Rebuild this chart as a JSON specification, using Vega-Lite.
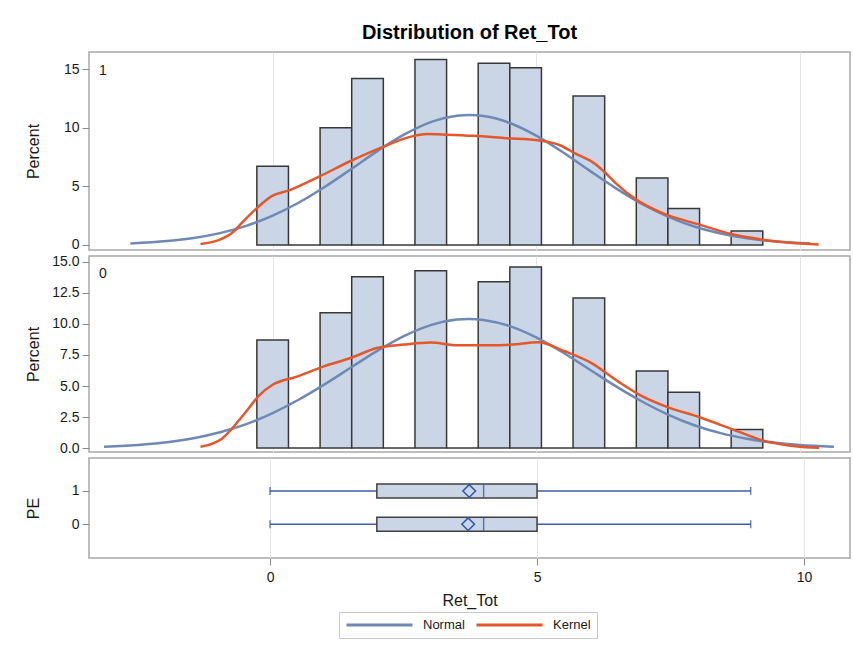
{
  "$schema": "https://vega.github.io/schema/vega-lite/v6.json",
  "padding": {"left": 24, "top": 23, "right": 3, "bottom": 5},
  "background": "white",
  "bounds": "flush",
  "title": {"text": "Distribution of Ret_Tot", "fontSize": 20, "fontWeight": "bold", "color": "#000000", "anchor": "middle", "frame": "group", "offset": -8, "baseline": "alphabetic"},
  "spacing": 6,
  "datasets": {
    "hist": [
      {"PE": 1, "lo": -0.3, "hi": 0.3, "pct": 6.7},
      {"PE": 1, "lo": 0.3, "hi": 0.9, "pct": 0},
      {"PE": 1, "lo": 0.9, "hi": 1.5, "pct": 10.0},
      {"PE": 1, "lo": 1.5, "hi": 2.1, "pct": 14.2},
      {"PE": 1, "lo": 2.1, "hi": 2.7, "pct": 0},
      {"PE": 1, "lo": 2.7, "hi": 3.3, "pct": 15.8},
      {"PE": 1, "lo": 3.3, "hi": 3.9, "pct": 0},
      {"PE": 1, "lo": 3.9, "hi": 4.5, "pct": 15.5},
      {"PE": 1, "lo": 4.5, "hi": 5.1, "pct": 15.1},
      {"PE": 1, "lo": 5.1, "hi": 5.7, "pct": 0},
      {"PE": 1, "lo": 5.7, "hi": 6.3, "pct": 12.7},
      {"PE": 1, "lo": 6.3, "hi": 6.9, "pct": 0},
      {"PE": 1, "lo": 6.9, "hi": 7.5, "pct": 5.7},
      {"PE": 1, "lo": 7.5, "hi": 8.1, "pct": 3.1},
      {"PE": 1, "lo": 8.1, "hi": 8.7, "pct": 0},
      {"PE": 1, "lo": 8.7, "hi": 9.3, "pct": 1.2},
      {"PE": 0, "lo": -0.3, "hi": 0.3, "pct": 8.7},
      {"PE": 0, "lo": 0.3, "hi": 0.9, "pct": 0},
      {"PE": 0, "lo": 0.9, "hi": 1.5, "pct": 10.9},
      {"PE": 0, "lo": 1.5, "hi": 2.1, "pct": 13.8},
      {"PE": 0, "lo": 2.1, "hi": 2.7, "pct": 0},
      {"PE": 0, "lo": 2.7, "hi": 3.3, "pct": 14.3},
      {"PE": 0, "lo": 3.3, "hi": 3.9, "pct": 0},
      {"PE": 0, "lo": 3.9, "hi": 4.5, "pct": 13.4},
      {"PE": 0, "lo": 4.5, "hi": 5.1, "pct": 14.6},
      {"PE": 0, "lo": 5.1, "hi": 5.7, "pct": 0},
      {"PE": 0, "lo": 5.7, "hi": 6.3, "pct": 12.1},
      {"PE": 0, "lo": 6.3, "hi": 6.9, "pct": 0},
      {"PE": 0, "lo": 6.9, "hi": 7.5, "pct": 6.2},
      {"PE": 0, "lo": 7.5, "hi": 8.1, "pct": 4.5},
      {"PE": 0, "lo": 8.1, "hi": 8.7, "pct": 0},
      {"PE": 0, "lo": 8.7, "hi": 9.3, "pct": 1.5}
    ],
    "curves": [
      {"PE": 1, "curve": "Normal", "x": -2.7, "pct": 0.13},
      {"PE": 1, "curve": "Normal", "x": -2.0, "pct": 0.33},
      {"PE": 1, "curve": "Normal", "x": -1.5, "pct": 0.59},
      {"PE": 1, "curve": "Normal", "x": -1.0, "pct": 1.01},
      {"PE": 1, "curve": "Normal", "x": -0.5, "pct": 1.63},
      {"PE": 1, "curve": "Normal", "x": 0.0, "pct": 2.5},
      {"PE": 1, "curve": "Normal", "x": 0.5, "pct": 3.62},
      {"PE": 1, "curve": "Normal", "x": 1.0, "pct": 4.98},
      {"PE": 1, "curve": "Normal", "x": 1.5, "pct": 6.5},
      {"PE": 1, "curve": "Normal", "x": 2.0, "pct": 8.04},
      {"PE": 1, "curve": "Normal", "x": 2.5, "pct": 9.42},
      {"PE": 1, "curve": "Normal", "x": 3.0, "pct": 10.47},
      {"PE": 1, "curve": "Normal", "x": 3.5, "pct": 11.02},
      {"PE": 1, "curve": "Normal", "x": 3.73, "pct": 11.08},
      {"PE": 1, "curve": "Normal", "x": 4.0, "pct": 10.99},
      {"PE": 1, "curve": "Normal", "x": 4.5, "pct": 10.4},
      {"PE": 1, "curve": "Normal", "x": 5.0, "pct": 9.32},
      {"PE": 1, "curve": "Normal", "x": 5.5, "pct": 7.92},
      {"PE": 1, "curve": "Normal", "x": 6.0, "pct": 6.38},
      {"PE": 1, "curve": "Normal", "x": 6.5, "pct": 4.87},
      {"PE": 1, "curve": "Normal", "x": 7.0, "pct": 3.52},
      {"PE": 1, "curve": "Normal", "x": 7.5, "pct": 2.42},
      {"PE": 1, "curve": "Normal", "x": 8.0, "pct": 1.57},
      {"PE": 1, "curve": "Normal", "x": 8.5, "pct": 0.97},
      {"PE": 1, "curve": "Normal", "x": 9.0, "pct": 0.56},
      {"PE": 1, "curve": "Normal", "x": 9.5, "pct": 0.31},
      {"PE": 1, "curve": "Normal", "x": 10.0, "pct": 0.16},
      {"PE": 1, "curve": "Normal", "x": 10.2, "pct": 0.13},
      {"PE": 1, "curve": "Kernel", "x": -1.37, "pct": 0.08},
      {"PE": 1, "curve": "Kernel", "x": -1.0, "pct": 0.45},
      {"PE": 1, "curve": "Kernel", "x": -0.75, "pct": 1.1},
      {"PE": 1, "curve": "Kernel", "x": -0.56, "pct": 2.0},
      {"PE": 1, "curve": "Kernel", "x": -0.31, "pct": 3.1},
      {"PE": 1, "curve": "Kernel", "x": 0.0, "pct": 4.2},
      {"PE": 1, "curve": "Kernel", "x": 0.31, "pct": 4.65},
      {"PE": 1, "curve": "Kernel", "x": 0.87, "pct": 5.8},
      {"PE": 1, "curve": "Kernel", "x": 1.5, "pct": 7.2},
      {"PE": 1, "curve": "Kernel", "x": 2.06, "pct": 8.3},
      {"PE": 1, "curve": "Kernel", "x": 2.68, "pct": 9.3},
      {"PE": 1, "curve": "Kernel", "x": 2.93, "pct": 9.45},
      {"PE": 1, "curve": "Kernel", "x": 3.3, "pct": 9.4},
      {"PE": 1, "curve": "Kernel", "x": 3.81, "pct": 9.3},
      {"PE": 1, "curve": "Kernel", "x": 4.43, "pct": 9.1},
      {"PE": 1, "curve": "Kernel", "x": 5.06, "pct": 8.9},
      {"PE": 1, "curve": "Kernel", "x": 5.45, "pct": 8.5},
      {"PE": 1, "curve": "Kernel", "x": 5.74, "pct": 7.8},
      {"PE": 1, "curve": "Kernel", "x": 6.12, "pct": 6.9},
      {"PE": 1, "curve": "Kernel", "x": 6.3, "pct": 6.2},
      {"PE": 1, "curve": "Kernel", "x": 6.55, "pct": 5.1},
      {"PE": 1, "curve": "Kernel", "x": 6.87, "pct": 3.95},
      {"PE": 1, "curve": "Kernel", "x": 7.43, "pct": 2.65},
      {"PE": 1, "curve": "Kernel", "x": 8.05, "pct": 1.8},
      {"PE": 1, "curve": "Kernel", "x": 8.68, "pct": 0.95},
      {"PE": 1, "curve": "Kernel", "x": 9.3, "pct": 0.45},
      {"PE": 1, "curve": "Kernel", "x": 9.82, "pct": 0.18},
      {"PE": 1, "curve": "Kernel", "x": 10.36, "pct": 0.04},
      {"PE": 0, "curve": "Normal", "x": -3.2, "pct": 0.11},
      {"PE": 0, "curve": "Normal", "x": -2.5, "pct": 0.27},
      {"PE": 0, "curve": "Normal", "x": -2.0, "pct": 0.47},
      {"PE": 0, "curve": "Normal", "x": -1.5, "pct": 0.79},
      {"PE": 0, "curve": "Normal", "x": -1.0, "pct": 1.27},
      {"PE": 0, "curve": "Normal", "x": -0.5, "pct": 1.93},
      {"PE": 0, "curve": "Normal", "x": 0.0, "pct": 2.82},
      {"PE": 0, "curve": "Normal", "x": 0.5, "pct": 3.91},
      {"PE": 0, "curve": "Normal", "x": 1.0, "pct": 5.17},
      {"PE": 0, "curve": "Normal", "x": 1.5, "pct": 6.53},
      {"PE": 0, "curve": "Normal", "x": 2.0, "pct": 7.87},
      {"PE": 0, "curve": "Normal", "x": 2.5, "pct": 9.04},
      {"PE": 0, "curve": "Normal", "x": 3.0, "pct": 9.91},
      {"PE": 0, "curve": "Normal", "x": 3.5, "pct": 10.36},
      {"PE": 0, "curve": "Normal", "x": 3.72, "pct": 10.41},
      {"PE": 0, "curve": "Normal", "x": 4.0, "pct": 10.33},
      {"PE": 0, "curve": "Normal", "x": 4.5, "pct": 9.83},
      {"PE": 0, "curve": "Normal", "x": 5.0, "pct": 8.92},
      {"PE": 0, "curve": "Normal", "x": 5.5, "pct": 7.72},
      {"PE": 0, "curve": "Normal", "x": 6.0, "pct": 6.37},
      {"PE": 0, "curve": "Normal", "x": 6.5, "pct": 5.01},
      {"PE": 0, "curve": "Normal", "x": 7.0, "pct": 3.77},
      {"PE": 0, "curve": "Normal", "x": 7.5, "pct": 2.7},
      {"PE": 0, "curve": "Normal", "x": 8.0, "pct": 1.84},
      {"PE": 0, "curve": "Normal", "x": 8.5, "pct": 1.2},
      {"PE": 0, "curve": "Normal", "x": 9.0, "pct": 0.75},
      {"PE": 0, "curve": "Normal", "x": 9.5, "pct": 0.44},
      {"PE": 0, "curve": "Normal", "x": 10.0, "pct": 0.25},
      {"PE": 0, "curve": "Normal", "x": 10.65, "pct": 0.11},
      {"PE": 0, "curve": "Kernel", "x": -1.37, "pct": 0.1},
      {"PE": 0, "curve": "Kernel", "x": -0.97, "pct": 0.73},
      {"PE": 0, "curve": "Kernel", "x": -0.56, "pct": 2.64},
      {"PE": 0, "curve": "Kernel", "x": -0.25, "pct": 4.27},
      {"PE": 0, "curve": "Kernel", "x": 0.0, "pct": 5.1},
      {"PE": 0, "curve": "Kernel", "x": 0.46, "pct": 5.76},
      {"PE": 0, "curve": "Kernel", "x": 0.97, "pct": 6.58},
      {"PE": 0, "curve": "Kernel", "x": 1.48, "pct": 7.26},
      {"PE": 0, "curve": "Kernel", "x": 1.98, "pct": 8.07},
      {"PE": 0, "curve": "Kernel", "x": 2.49, "pct": 8.34},
      {"PE": 0, "curve": "Kernel", "x": 3.0, "pct": 8.5},
      {"PE": 0, "curve": "Kernel", "x": 3.51, "pct": 8.29},
      {"PE": 0, "curve": "Kernel", "x": 4.12, "pct": 8.29},
      {"PE": 0, "curve": "Kernel", "x": 4.53, "pct": 8.34},
      {"PE": 0, "curve": "Kernel", "x": 5.04, "pct": 8.53},
      {"PE": 0, "curve": "Kernel", "x": 5.54, "pct": 7.8},
      {"PE": 0, "curve": "Kernel", "x": 6.05, "pct": 6.85},
      {"PE": 0, "curve": "Kernel", "x": 6.56, "pct": 5.35},
      {"PE": 0, "curve": "Kernel", "x": 6.97, "pct": 4.27},
      {"PE": 0, "curve": "Kernel", "x": 7.48, "pct": 3.32},
      {"PE": 0, "curve": "Kernel", "x": 8.09, "pct": 2.5},
      {"PE": 0, "curve": "Kernel", "x": 8.7, "pct": 1.55},
      {"PE": 0, "curve": "Kernel", "x": 9.31, "pct": 0.6},
      {"PE": 0, "curve": "Kernel", "x": 9.82, "pct": 0.19},
      {"PE": 0, "curve": "Kernel", "x": 10.37, "pct": 0.02}
    ],
    "box": [
      {"PE": 1, "min": 0, "q1": 2, "median": 4, "q3": 5, "max": 9, "mean": 3.73},
      {"PE": 0, "min": 0, "q1": 2, "median": 4, "q3": 5, "max": 9, "mean": 3.71}
    ]
  },
  "vconcat": [
    {
      "width": 761,
      "height": 198,
      "title": {"text": "1", "anchor": "start", "frame": "group", "offset": -26, "dx": 10, "fontSize": 14, "fontWeight": "normal", "color": "#1a1a1a"},
      "layer": [
        {
          "data": {"name": "hist"},
          "transform": [{"filter": "datum.PE == 1"}],
          "mark": {"type": "bar", "orient": "vertical", "fill": "#cad5e5", "stroke": "#383838", "strokeWidth": 1.5},
          "encoding": {
            "x": {"field": "lo", "type": "quantitative", "scale": {"domain": [-3.39, 10.86], "nice": false, "zero": false}, "axis": {"title": null, "labels": false, "ticks": false, "domain": false, "grid": true, "values": [0, 5, 10]}},
            "x2": {"field": "hi"},
            "y": {"field": "pct", "type": "quantitative", "scale": {"domain": [-0.43, 16.45], "nice": false, "zero": false}, "axis": {"title": "Percent", "values": [0, 5, 10, 15], "grid": false, "titleX": -48, "labelOverlap": false}}
          }
        },
        {
          "data": {"name": "curves"},
          "transform": [{"filter": "datum.PE == 1"}],
          "mark": {"type": "line", "strokeWidth": 2.5, "interpolate": "monotone"},
          "encoding": {
            "x": {"field": "x", "type": "quantitative", "axis": {"title": null, "labels": false, "ticks": false, "domain": false, "grid": true, "values": [0, 5, 10]}},
            "y": {"field": "pct", "type": "quantitative", "axis": {"title": "Percent", "values": [0, 5, 10, 15], "grid": false, "titleX": -48, "labelOverlap": false}},
            "color": {"field": "curve", "type": "nominal", "scale": {"domain": ["Normal", "Kernel"], "range": ["#6f89b6", "#e4572a"]},
              "legend": {"orient": "none", "legendX": 250, "legendY": 560, "direction": "horizontal", "title": null, "symbolType": "stroke", "symbolSize": 4356, "clipHeight": 14, "symbolStrokeWidth": 3, "labelFontSize": 13, "strokeColor": "#c8c8c8", "padding": 6, "columnPadding": 10, "labelOffset": 9}}
          }
        }
      ]
    },
    {
      "width": 761,
      "height": 196,
      "title": {"text": "0", "anchor": "start", "frame": "group", "offset": -26, "dx": 10, "fontSize": 14, "fontWeight": "normal", "color": "#1a1a1a"},
      "layer": [
        {
          "data": {"name": "hist"},
          "transform": [{"filter": "datum.PE == 0"}],
          "mark": {"type": "bar", "orient": "vertical", "fill": "#cad5e5", "stroke": "#383838", "strokeWidth": 1.5},
          "encoding": {
            "x": {"field": "lo", "type": "quantitative", "scale": {"domain": [-3.39, 10.86], "nice": false, "zero": false}, "axis": {"title": null, "labels": false, "ticks": false, "domain": false, "grid": true, "values": [0, 5, 10]}},
            "x2": {"field": "hi"},
            "y": {"field": "pct", "type": "quantitative", "scale": {"domain": [-0.32, 15.48], "nice": false, "zero": false}, "axis": {"title": "Percent", "values": [0, 2.5, 5, 7.5, 10, 12.5, 15], "format": ".1f", "grid": false, "titleX": -48, "labelOverlap": false}}
          }
        },
        {
          "data": {"name": "curves"},
          "transform": [{"filter": "datum.PE == 0"}],
          "mark": {"type": "line", "strokeWidth": 2.5, "interpolate": "monotone"},
          "encoding": {
            "x": {"field": "x", "type": "quantitative", "axis": {"title": null, "labels": false, "ticks": false, "domain": false, "grid": true, "values": [0, 5, 10]}},
            "y": {"field": "pct", "type": "quantitative", "axis": {"title": "Percent", "values": [0, 2.5, 5, 7.5, 10, 12.5, 15], "format": ".1f", "grid": false, "titleX": -48, "labelOverlap": false}},
            "color": {"field": "curve", "type": "nominal", "scale": {"domain": ["Normal", "Kernel"], "range": ["#6f89b6", "#e4572a"]},
              "legend": {"orient": "none", "legendX": 250, "legendY": 560, "direction": "horizontal", "title": null, "symbolType": "stroke", "symbolSize": 4356, "clipHeight": 14, "symbolStrokeWidth": 3, "labelFontSize": 13, "strokeColor": "#c8c8c8", "padding": 6, "columnPadding": 10, "labelOffset": 9}}
          }
        }
      ]
    },
    {
      "width": 761,
      "height": 100,
      "data": {"name": "box"},
      "encoding": {
        "y": {"field": "PE", "type": "quantitative", "scale": {"domain": [-0.865, 1.84], "nice": false, "zero": false}, "axis": {"title": "PE", "values": [0, 1], "format": "d", "grid": false, "titleX": -48}}
      },
      "layer": [
        {
          "mark": {"type": "rule", "color": "#3f5ea8", "strokeWidth": 1.5},
          "encoding": {
            "x": {"field": "min", "type": "quantitative", "scale": {"domain": [-3.39, 10.86], "nice": false, "zero": false}, "axis": {"title": "Ret_Tot", "values": [0, 5, 10], "grid": true, "ticks": true, "domain": false, "labelPadding": 5, "titlePadding": 8}},
            "x2": {"field": "max"}
          }
        },
        {
          "mark": {"type": "tick", "orient": "vertical", "color": "#2b4ea3", "size": 8, "thickness": 1.5},
          "encoding": {"x": {"field": "min", "type": "quantitative"}}
        },
        {
          "mark": {"type": "tick", "orient": "vertical", "color": "#2b4ea3", "size": 8, "thickness": 1.5},
          "encoding": {"x": {"field": "max", "type": "quantitative"}}
        },
        {
          "mark": {"type": "bar", "orient": "horizontal", "size": 14, "fill": "#cad5e5", "stroke": "#404040", "strokeWidth": 1.5},
          "encoding": {"x": {"field": "q1", "type": "quantitative"}, "x2": {"field": "q3"}}
        },
        {
          "mark": {"type": "tick", "orient": "vertical", "color": "#2b4ea3", "size": 13, "thickness": 1.5},
          "encoding": {"x": {"field": "median", "type": "quantitative"}}
        },
        {
          "mark": {"type": "point", "shape": "diamond", "filled": false, "size": 160, "stroke": "#2f55ad", "strokeWidth": 1.5, "opacity": 1},
          "encoding": {"x": {"field": "mean", "type": "quantitative"}}
        }
      ]
    }
  ],
  "config": {
    "font": "Liberation Sans",
    "view": {"stroke": "#a8a8a8", "strokeWidth": 1.5},
    "axis": {"labelFontSize": 14, "titleFontSize": 16, "titleFontWeight": "normal", "labelColor": "#1a1a1a", "titleColor": "#1a1a1a", "tickColor": "#8a8a8a", "tickSize": 7, "domain": false, "gridColor": "#e6e6e6", "labelPadding": 3, "labelOverlap": false},
    "legend": {"labelColor": "#1a1a1a"}
  }
}
